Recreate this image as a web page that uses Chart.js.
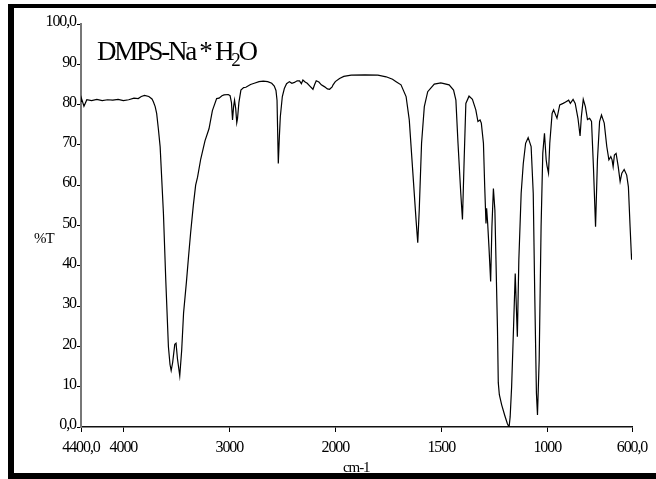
<!DOCTYPE html>
<html><head><meta charset="utf-8">
<script src="https://cdn.jsdelivr.net/npm/chart.js@4.4.1/dist/chart.umd.min.js"></script>
<style>html,body{margin:0;padding:0;background:#fff}#wrap{width:656px;height:479px;position:relative}</style>
</head><body><div id="wrap"><canvas id="c"></canvas></div>
<script>
// ---- data (wavenumber cm-1, %T) ----
const wavenumbers = [4400,4395,4372,4345,4300,4250,4200,4150,4100,4050,4000,3950,3900,3860,3831,3800,3760,3730,3717,3700,3686,3670,3653,3622,3600,3575,3560,3549,3535,3515,3503,3490,3468,3450,3432,3405,3385,3366,3340,3318,3300,3270,3230,3192,3160,3120,3097,3070,3050,3010,2993,2980,2970,2960,2951,2940,2930,2923,2910,2891,2865,2844,2800,2765,2720,2680,2638,2600,2576,2560,2550,2538,2528,2519,2500,2481,2460,2433,2410,2386,2360,2338,2320,2306,2285,2265,2240,2211,2195,2180,2155,2132,2100,2075,2054,2030,2021,2000,1980,1960,1925,1860,1799,1760,1730,1713,1690,1666,1651,1635,1619,1611,1604,1593,1580,1564,1533,1502,1463,1442,1431,1421,1408,1400,1392,1384,1369,1353,1337,1327,1317,1311,1301,1295,1289,1286,1281,1275,1267,1261,1254,1247,1235,1231,1226,1215,1200,1188,1180,1175,1168,1160,1151,1141,1134,1123,1113,1102,1090,1076,1066,1059,1051,1046,1038,1029,1021,1013,1005,1001,994,988,977,970,954,941,925,915,899,891,878,868,855,845,839,830,820,810,800,791,782,772,763,753,744,731,719,709,700,694,689,683,675,665,656,648,637,625,617,609,602,600];
const transmittance = [80.8,81.5,79.6,81.2,81.0,81.3,81.0,81.2,81.1,81.3,81.0,81.2,81.6,81.5,82.0,82.3,82.0,81.4,80.7,79.5,77.8,74.0,69.5,53,36.5,19.9,15.5,14.0,16,20.5,20.8,17,12.7,19,28.3,36,42.3,48,55,60,62,66.5,71,74,78.5,81.5,81.6,82.2,82.4,82.5,82.2,80.5,76.2,79.5,81.1,79,75.5,76.5,80.5,83.6,84.2,84.3,85.0,85.3,85.7,85.8,85.7,85.3,84.6,83.5,81.1,65.4,72,77,82,84,85.2,85.7,85.3,85.5,85.9,85.9,85.2,86.1,85.6,85.3,84.6,83.8,85,85.9,85.6,84.9,84.4,83.9,83.8,84.4,84.9,85.7,86.5,87,87.3,87.4,87.3,86.9,86.3,85.7,84.9,82,76.2,63.8,51.4,45.7,53.8,70.4,79.5,83.2,85.1,85.4,84.9,83.6,81.1,70.4,58,51.5,66.3,80.3,82.1,81.3,78.7,75.8,76.2,75.4,70.4,59.6,50.5,54.3,50.5,44.7,36.1,49.7,59.2,53.8,24.9,11,8,5.5,2.8,0.8,0,2.5,10,23,38.1,22.4,41.4,58,65.4,70.4,71.8,69.6,58,33.2,8.4,3,16.6,49.7,67.9,72.9,66.3,64.8,63,70.4,77.8,78.7,76.6,79.9,80.3,80.6,81.1,80.3,81.3,80.3,76.6,72.2,77,81.3,79.5,76.3,76.6,75.8,64.6,49.7,66.3,75.8,77.4,75.4,69.6,66.3,67.1,66.3,64.6,67.5,67.9,64.6,60.9,63,63.9,62.5,59.6,49.7,41.5,43];
const xTickValues = [4400,4000,3000,2000,1500,1000,600];
const xTickLabels = ['4400,0','4000','3000','2000','1500','1000','600,0'];
const yTickValues = [0,10,20,30,40,50,60,70,80,90,100];
const yTickLabels = ['0,0','10','20','30','40','50','60','70','80','90','100,0'];
const titleMain = 'DMPS-Na * H';
const titleSub = '2';
const titleEnd = 'O';
const yAxisTitle = '%T';
const xAxisTitle = 'cm-1';

// ---- IR axis: 4400-2000 at one scale, 2000-600 at double scale ----
class IRScale extends Chart.LinearScale {
  toU(v){ return v >= 2000 ? 4400 - v : 2400 + 2*(2000 - v); }
  getPixelForValue(v){
    if (v === null || v === undefined || isNaN(v)) return NaN;
    return this.left + this.toU(v) / 5200 * this.width;
  }
  getValueForPixel(p){
    const u = (p - this.left) / this.width * 5200;
    return u <= 2400 ? 4400 - u : 2000 - (u - 2400) / 2;
  }
}
IRScale.id = 'irscale';
IRScale.defaults = Chart.LinearScale.defaults;
Chart.register(IRScale);

const SERIF = '"Liberation Serif", "Times New Roman", serif';
const points = wavenumbers.map((w, i) => ({x: w, y: transmittance[i]}));

const decor = {
  id: 'decor',
  beforeDraw(chart){ chart.ctx.letterSpacing = '-1.1px'; },
  afterDraw(chart){
    const ctx = chart.ctx;
    ctx.save();
    ctx.fillStyle = '#000';
    ctx.fillRect(8, 4, 648, 4);
    ctx.fillRect(8, 4, 6, 475);
    ctx.fillRect(8, 473, 648, 6);
    ctx.textBaseline = 'alphabetic';
    ctx.textAlign = 'left';
    ctx.font = '27px ' + SERIF;
    ctx.letterSpacing = '-2.3px';
    ctx.fillText(titleMain, 97, 60);
    let x = 97 + ctx.measureText(titleMain).width;
    ctx.font = '19px ' + SERIF;
    ctx.fillText(titleSub, x - 1, 66);
    x += ctx.measureText(titleSub).width - 1;
    ctx.font = '27px ' + SERIF;
    ctx.fillText(titleEnd, x, 60);
    ctx.letterSpacing = '-1.1px';
    ctx.font = '15px ' + SERIF;
    ctx.fillText(yAxisTitle, 34, 243);
    ctx.fillText(xAxisTitle, 343, 472);
    ctx.restore();
  }
};

new Chart(document.getElementById('c'), {
  type: 'scatter',
  data: { datasets: [{ data: points, showLine: true, borderColor: '#000', borderWidth: 1.2, pointRadius: 0, tension: 0, fill: false }] },
  options: {
    responsive: true, maintainAspectRatio: false, animation: false,
    layout: { padding: { left: 0, top: 24, right: 24, bottom: 0 } },
    plugins: { legend: { display: false }, tooltip: { enabled: false } },
    scales: {
      x: {
        type: 'irscale', min: 600, max: 4400,
        afterBuildTicks(s){ s.ticks = xTickValues.map(v => ({value: v})); },
        afterFit(s){ s.height = 52; },
        grid: { drawOnChartArea: false, drawTicks: true, tickLength: 5, color: '#000', lineWidth: 1 },
        border: { display: true, color: '#111', width: 1.5 },
        ticks: { autoSkip: false, maxRotation: 0, minRotation: 0, padding: 6, color: '#000', font: { family: SERIF, size: 16 },
          callback(v){ const i = xTickValues.indexOf(v); return i >= 0 ? xTickLabels[i] : ''; } }
      },
      y: {
        min: 0, max: 100,
        afterBuildTicks(s){ s.ticks = yTickValues.map(v => ({value: v})); },
        afterFit(s){ s.width = 81; },
        grid: { drawOnChartArea: false, drawTicks: true, tickLength: 4, color: '#000', lineWidth: 1 },
        border: { display: true, color: '#777', width: 2 },
        ticks: { padding: 1, labelOffset: -2, color: '#000', font: { family: SERIF, size: 16 },
          callback(v){ const i = yTickValues.indexOf(v); return i >= 0 ? yTickLabels[i] : ''; } }
      }
    }
  },
  plugins: [decor]
});
</script>
</body></html>
